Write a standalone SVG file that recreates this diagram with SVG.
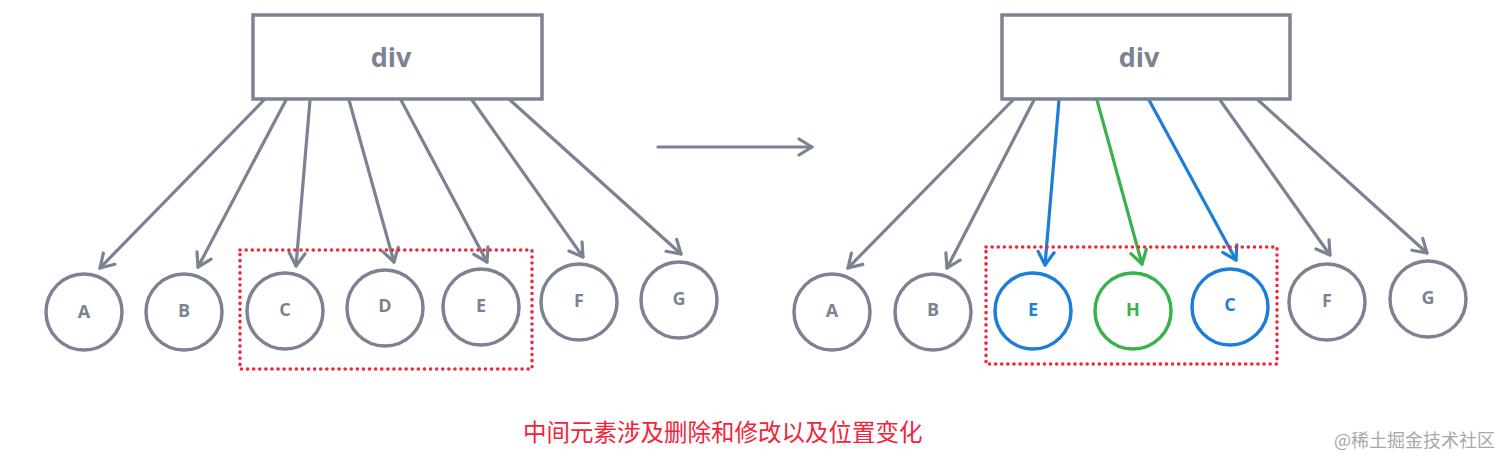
<svg xmlns="http://www.w3.org/2000/svg" width="1512" height="466" viewBox="0 0 1512 466">
<style>
.box{fill:#fff;stroke:#7b8392;stroke-width:3.5}
.node{fill:#fff;stroke:#7b8392;stroke-width:3.5}
.blue{stroke:#1c7ed6}
.green{stroke:#37b24d}
.lbl{font-family:"Open Sans","Liberation Sans",sans-serif;font-weight:bold;fill:#7b8392;text-anchor:middle;dominant-baseline:central}
.divt{font-size:27px}
.ct{font-size:18px}
.edge{fill:none;stroke:#7b8392;stroke-width:3.2;stroke-linecap:round}
.eb{stroke:#1c7ed6}
.eg{stroke:#37b24d}
.sel{fill:none;stroke:#f3233a;stroke-width:3.5;stroke-dasharray:0.1 6;stroke-linecap:round}
.cap{font-family:"Liberation Sans","Noto Sans CJK SC",sans-serif;font-size:23.5px;fill:#f3233a}
.wm{font-family:"Noto Sans CJK SC",sans-serif;font-size:18px;fill:#a8a8a8;text-anchor:end}
</style>
<defs>
<marker id="ah" viewBox="0 0 20 20" refX="16" refY="10" markerWidth="20" markerHeight="20" markerUnits="userSpaceOnUse" orient="auto">
<path d="M3,2 L16,10 L3,18" fill="none" stroke="#7b8392" stroke-width="3.2" stroke-linecap="round" stroke-linejoin="round"/>
</marker>
<marker id="ahb" viewBox="0 0 20 20" refX="16" refY="10" markerWidth="20" markerHeight="20" markerUnits="userSpaceOnUse" orient="auto">
<path d="M3,2 L16,10 L3,18" fill="none" stroke="#1c7ed6" stroke-width="3.2" stroke-linecap="round" stroke-linejoin="round"/>
</marker>
<marker id="ahg" viewBox="0 0 20 20" refX="16" refY="10" markerWidth="20" markerHeight="20" markerUnits="userSpaceOnUse" orient="auto">
<path d="M3,2 L16,10 L3,18" fill="none" stroke="#37b24d" stroke-width="3.2" stroke-linecap="round" stroke-linejoin="round"/>
</marker>
</defs>
<rect width="1512" height="466" fill="#fff"/>

<g id="connectors">
<path class="edge" marker-end="url(#ah)" d="M264,100 L100,268"/>
<path class="edge" marker-end="url(#ah)" d="M286,100 L198,267"/>
<path class="edge" marker-end="url(#ah)" d="M310,100 L296,266"/>
<path class="edge" marker-end="url(#ah)" d="M349,100 L394,262"/>
<path class="edge" marker-end="url(#ah)" d="M401,100 L487,262"/>
<path class="edge" marker-end="url(#ah)" d="M472,100 L583,257"/>
<path class="edge" marker-end="url(#ah)" d="M510,100 L681,254"/>
<path class="edge" marker-end="url(#ah)" d="M658,147 L812,147"/>
<path class="edge" marker-end="url(#ah)" d="M1013,100 L848,268"/>
<path class="edge" marker-end="url(#ah)" d="M1034,100 L947,268"/>
<path class="edge eb" marker-end="url(#ahb)" d="M1059,100 L1045,265"/>
<path class="edge eg" marker-end="url(#ahg)" d="M1097,100 L1142,264"/>
<path class="edge eb" marker-end="url(#ahb)" d="M1149,100 L1236,260"/>
<path class="edge" marker-end="url(#ah)" d="M1220,100 L1330,255"/>
<path class="edge" marker-end="url(#ah)" d="M1258,100 L1427,253"/>
</g>

<rect class="sel" x="240" y="250" width="292" height="119"/>
<rect class="sel" x="986" y="247" width="291" height="117"/>

<g id="div-left"><rect class="box" x="253" y="15" width="289" height="84"/><text class="lbl divt" x="391" y="56">div</text></g>
<g id="A-left"><circle class="node" cx="84" cy="312" r="38"/><text class="lbl ct" x="84" y="311">A</text></g>
<g id="B-left"><circle class="node" cx="184" cy="312" r="38"/><text class="lbl ct" x="184" y="310">B</text></g>
<g id="C-left"><circle class="node" cx="285" cy="311" r="38"/><text class="lbl ct" x="285" y="309">C</text></g>
<g id="D-left"><circle class="node" cx="385" cy="308" r="38"/><text class="lbl ct" x="385" y="305">D</text></g>
<g id="E-left"><circle class="node" cx="481" cy="307" r="38"/><text class="lbl ct" x="481" y="305">E</text></g>
<g id="F-left"><circle class="node" cx="579" cy="302" r="38"/><text class="lbl ct" x="579" y="300">F</text></g>
<g id="G-left"><circle class="node" cx="679" cy="300" r="38"/><text class="lbl ct" x="679" y="298">G</text></g>

<g id="div-right"><rect class="box" x="1002" y="15" width="288" height="84"/><text class="lbl divt" x="1139" y="56">div</text></g>
<g id="A-right"><circle class="node" cx="832" cy="312" r="38"/><text class="lbl ct" x="832" y="310">A</text></g>
<g id="B-right"><circle class="node" cx="933" cy="312" r="38"/><text class="lbl ct" x="933" y="309">B</text></g>
<g id="E-right"><circle class="node blue" cx="1033" cy="311" r="38"/><text class="lbl ct" x="1033" y="309" style="fill:#1c7ed6">E</text></g>
<g id="H-right"><circle class="node green" cx="1133" cy="311" r="38"/><text class="lbl ct" x="1133" y="309" style="fill:#37b24d">H</text></g>
<g id="C-right"><circle class="node blue" cx="1230" cy="307" r="38"/><text class="lbl ct" x="1230" y="304" style="fill:#1c7ed6">C</text></g>
<g id="F-right"><circle class="node" cx="1327" cy="302" r="38"/><text class="lbl ct" x="1327" y="300">F</text></g>
<g id="G-right"><circle class="node" cx="1428" cy="299" r="38"/><text class="lbl ct" x="1428" y="297">G</text></g>

<text class="cap" x="523" y="441">中间元素涉及删除和修改以及位置变化</text>
<text class="wm" x="1495" y="447">@稀土掘金技术社区</text>
</svg>
